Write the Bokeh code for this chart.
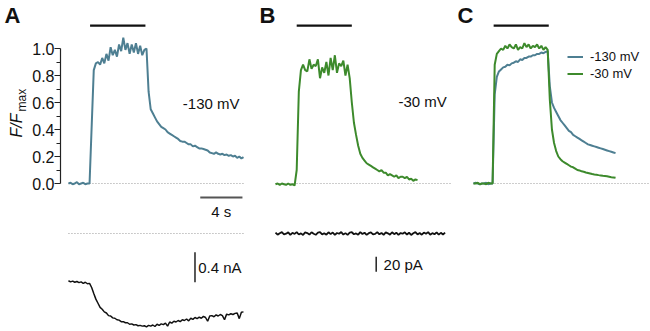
import numpy as np
from bokeh.plotting import figure
from bokeh.layouts import row
from bokeh.models import (Range1d, LinearAxis, Label, Legend, LegendItem,
                          FixedTicker, PrintfTickFormatter)
from bokeh.embed import file_html
from bokeh.resources import INLINE

# ---------------- data ----------------
DT = 0.2  # s, sampling interval of the traces

# Panel A: F/Fmax at -130 mV
fA = [0.00, 0.005, -0.005, 0.00, 0.01,
      -0.005, 0.00, 0.005, -0.005, 0.00,
      0.00, 0.42, 0.84, 0.89, 0.90,
      0.88, 0.93, 0.89, 0.96, 0.91,
      1.01, 0.95, 0.99, 0.94, 1.03,
      0.98, 1.08, 0.99, 1.04, 0.96,
      1.03, 0.97, 1.04, 0.96, 1.02,
      0.95, 0.99, 1.00, 0.68, 0.55,
      0.52, 0.49, 0.46, 0.44, 0.42,
      0.41, 0.40, 0.38, 0.37, 0.36,
      0.35, 0.34, 0.33, 0.315, 0.31,
      0.31, 0.30, 0.29, 0.29, 0.275,
      0.28, 0.27, 0.26, 0.26, 0.255,
      0.25, 0.245, 0.23, 0.225, 0.22,
      0.23, 0.22, 0.215, 0.22, 0.21,
      0.215, 0.205, 0.21, 0.20, 0.205,
      0.19, 0.20, 0.185, 0.195]

# Panel A: membrane current (nA)
iA = [-0.630, -0.645, -0.635, -0.650, -0.640,
      -0.655, -0.645, -0.665, -0.650, -0.670,
      -0.665, -0.720, -0.800, -0.875, -0.930,
      -0.985, -1.010, -1.045, -1.060, -1.095,
      -1.100, -1.125, -1.130, -1.150, -1.155,
      -1.175, -1.175, -1.190, -1.190, -1.210,
      -1.205, -1.220, -1.215, -1.230, -1.225,
      -1.235, -1.230, -1.245, -1.225, -1.235,
      -1.220, -1.240, -1.210, -1.225, -1.205,
      -1.215, -1.195, -1.235, -1.180, -1.195,
      -1.170, -1.180, -1.160, -1.175, -1.150,
      -1.160, -1.140, -1.165, -1.130, -1.145,
      -1.120, -1.135, -1.115, -1.130, -1.105,
      -1.120, -1.170, -1.100, -1.095, -1.110,
      -1.085, -1.100, -1.080, -1.095, -1.150,
      -1.075, -1.085, -1.070, -1.080, -1.065,
      -1.060, -1.135, -1.050, -1.045]

# Panel B: F/Fmax at -30 mV
fB = [-0.005, 0.00, -0.01, 0.00, -0.005,
      -0.01, 0.00, -0.01, -0.005, -0.015,
      0.10, 0.68, 0.84, 0.88, 0.84,
      0.83, 0.92, 0.85, 0.88, 0.87,
      0.92, 0.78, 0.86, 0.82, 0.90,
      0.80, 0.93, 0.84, 0.95, 0.82,
      0.89, 0.87, 0.91, 0.80, 0.88,
      0.78, 0.60, 0.45, 0.36, 0.28,
      0.22, 0.19, 0.17, 0.15, 0.14,
      0.13, 0.12, 0.11, 0.10, 0.09,
      0.10, 0.08, 0.08, 0.06, 0.07,
      0.06, 0.05, 0.06, 0.04, 0.05,
      0.05, 0.04, 0.05, 0.03, 0.035,
      0.02, 0.03, 0.025]

# Panel B: membrane current (pA)
iB = [1.2, -1.6, 0.4, 1.8, -1.1, -0.2, 1.5, -1.8, 0.9, -0.6,
      1.9, -1.3, 0.2, -1.9, 1.4, 0.6, -1.5, 1.7, -0.4, -1.7,
      1.1, 1.8, -1.2, 0.3, -1.6, 1.6, -0.8, 1.3, -1.9, 0.7,
      -0.3, 1.9, -1.4, 0.5, -1.8, 1.2, 1.7, -1.0, 0.1, -1.6,
      1.8, -0.7, 1.0, -1.9, 0.4, 1.5, -1.3, -0.5, 1.9, -1.1,
      0.8, -1.7, 1.4, 0.2, -1.5, 1.7, -0.9, 1.1, -1.8, 0.6,
      -0.2, 1.6, -1.4, 1.0, -1.9, 0.3, 1.8, -1.2, 0.7, -1.6,
      1.3, -0.4, 1.9, -1.7, 0.5, -1.0, 1.5, -1.5, 0.9, -1.3, 1.2]

# Panel C: normalised averages
fC130 = [0.00, 0.005, 0.00, -0.005, 0.00,
         0.00, 0.005, -0.005, 0.00, 0.00,
         0.66, 0.79, 0.83, 0.845, 0.86,
         0.865, 0.88, 0.875, 0.89, 0.895,
         0.905, 0.90, 0.92, 0.915, 0.93,
         0.93, 0.94, 0.94, 0.95, 0.95,
         0.96, 0.96, 0.97, 0.965, 0.975,
         0.98, 0.72, 0.60, 0.56, 0.53,
         0.50, 0.47, 0.45, 0.43, 0.41,
         0.39, 0.38, 0.36, 0.35, 0.34,
         0.33, 0.32, 0.31, 0.30, 0.29,
         0.285, 0.28, 0.275, 0.27, 0.265,
         0.26, 0.255, 0.25, 0.245, 0.24,
         0.235, 0.23, 0.225]
fC30 = [0.00, 0.00, 0.005, -0.005, 0.00,
        0.00, -0.005, 0.005, 0.00, 0.00,
        0.88, 0.96, 0.98, 1.00, 0.99,
        1.02, 1.00, 1.03, 1.01, 1.00,
        1.03, 0.99, 1.01, 1.00, 1.04,
        1.01, 1.03, 1.00, 1.02, 1.01,
        1.03, 1.00, 1.02, 0.99, 1.01,
        0.99, 0.62, 0.40, 0.30, 0.24,
        0.20, 0.18, 0.165, 0.155, 0.145,
        0.135, 0.125, 0.12, 0.11, 0.10,
        0.097, 0.09, 0.087, 0.082, 0.078,
        0.074, 0.07, 0.067, 0.065, 0.062,
        0.06, 0.057, 0.055, 0.053, 0.05,
        0.047, 0.045, 0.042]

# light stimulus (s) per panel
stimA = [2.05, 7.30]
stimB = [2.00, 7.20]
stimC = [1.90, 7.10]
baseline_t = [0.0, 16.7]
y_ticks = [0.0, 0.2, 0.4, 0.6, 0.8, 1.0]
y_minor = [0.1, 0.3, 0.5, 0.7, 0.9]
legend_labels = ["-130 mV", "-30 mV"]

# ---------------- layout / style ----------------
FONT = "Liberation Sans"
BLUE = "#4e7f92"
GREEN = "#3d8a2c"
INK = "#111111"
H = 331
PX_S = 10.6      # px per second
PX_F = 135.0     # px per unit F/Fmax
F0_PY = 183      # px from top where F = 0
I0_PY = 233      # px from top where I = 0
PX_NA = 75.0     # px per nA
PX_PA = 0.75     # px per pA
W_TITLE = 29     # strip holding the panel letter and the y-axis title
AX_BORDER = 30   # border of panel A holding the y axis

def t_of(x, t0_px):
    return (x - t0_px) / PX_S

def f_of(y):
    return (F0_PY - y) / PX_F

def make_fig(width, fig_left, t0_px, left_border=0):
    frame_left = fig_left + left_border
    xs = (frame_left - t0_px) / PX_S
    xe = xs + (width - left_border) / PX_S
    p = figure(width=width, height=H,
               x_range=Range1d(xs, xe),
               y_range=Range1d(-(H - F0_PY) / PX_F, F0_PY / PX_F),
               output_backend="svg", toolbar_location=None,
               x_axis_location=None, y_axis_location=None,
               min_border=0, min_border_left=left_border,
               outline_line_color=None, background_fill_color="white",
               border_fill_color="white")
    p.xgrid.visible = False
    p.ygrid.visible = False
    return p

def lab(p, text, x, y, size="15px", style="normal", align="left",
        baseline="middle", angle=0, y_range_name="default"):
    p.add_layout(Label(x=x, y=y, text=text, text_font=FONT,
                       text_font_size=size, text_font_style=style,
                       text_align=align, text_baseline=baseline,
                       angle=angle, angle_units="deg", text_color=INK,
                       y_range_name=y_range_name))

# ---------------- title strip (panel letter A + y-axis title) ----------------
A_T0 = 67
p0 = make_fig(W_TITLE, 0, A_T0)
lab(p0, "A", t_of(4, A_T0), f_of(2), size="22px", style="bold", baseline="top")
lab(p0, "F/F", t_of(15.5, A_T0), f_of(137), size="16px", style="italic",
    baseline="alphabetic", angle=90)
lab(p0, "max", t_of(21, A_T0), f_of(111), size="12px", baseline="alphabetic", angle=90)

# ---------------- Panel A ----------------
pA = make_fig(250 - W_TITLE, W_TITLE, A_T0, left_border=AX_BORDER)
pA.extra_y_ranges = {"cur": Range1d(-(H - I0_PY) / PX_NA, I0_PY / PX_NA)}
ax = LinearAxis(ticker=FixedTicker(ticks=y_ticks, minor_ticks=y_minor),
                formatter=PrintfTickFormatter(format="%.1f"), bounds=(0, 1))
ax.axis_line_color = "#222222"
ax.axis_line_width = 1.2
ax.major_tick_line_color = "#222222"
ax.minor_tick_line_color = "#222222"
ax.major_tick_line_width = 1.2
ax.minor_tick_line_width = 1.2
ax.major_tick_out = 6
ax.major_tick_in = 0
ax.minor_tick_out = 4
ax.minor_tick_in = 0
ax.major_label_standoff = 0
ax.major_label_text_font = FONT
ax.major_label_text_font_size = "16px"
ax.major_label_text_color = INK
pA.add_layout(ax, "left")

tA = np.arange(len(fA)) * DT
pA.line(baseline_t, [0, 0], line_color="#9a9a9a", line_width=1, line_dash="1 2")
pA.line(tA, fA, line_color=BLUE, line_width=2)
pA.line(stimA, [1.17, 1.17], line_color=INK, line_width=2.2)
pA.line(baseline_t, [0, 0], line_color="#9a9a9a", line_width=1, line_dash="1 2",
        y_range_name="cur")
tiA = np.arange(len(iA)) * DT
pA.line(tiA, iA, line_color=INK, line_width=1.5, y_range_name="cur")
# scale bars
pA.line([12.5, 16.5], [-0.104, -0.104], line_color="#555555", line_width=2)
pA.line([12.0, 12.0], [-0.25, -0.65], line_color="#222222", line_width=1.5,
        y_range_name="cur")

lab(pA, "4 s", 14.5, -0.21, align="center")
lab(pA, "0.4 nA", 12.3, -0.45, y_range_name="cur")
lab(pA, "-130 mV", t_of(182, A_T0), f_of(103))

# ---------------- Panel B ----------------
B_LEFT, B_T0 = 250, 275
pB = make_fig(205, B_LEFT, B_T0)
pB.extra_y_ranges = {"cur": Range1d(-(H - I0_PY) / PX_PA, I0_PY / PX_PA)}
tB = np.arange(len(fB)) * DT
pB.line(baseline_t, [0, 0], line_color="#9a9a9a", line_width=1, line_dash="1 2")
pB.line(tB, fB, line_color=GREEN, line_width=2)
pB.line(stimB, [1.17, 1.17], line_color=INK, line_width=2.2)
tiB = np.arange(len(iB)) * DT
pB.line(tiB, iB, line_color=INK, line_width=1.8, y_range_name="cur")
pB.line([9.5, 9.5], [-31, -51], line_color="#222222", line_width=1.5, y_range_name="cur")
lab(pB, "20 pA", 10.2, -41, y_range_name="cur")
lab(pB, "-30 mV", t_of(398, B_T0), f_of(101))
lab(pB, "B", t_of(259, B_T0), f_of(2), size="22px", style="bold", baseline="top")

# ---------------- Panel C ----------------
C_LEFT, C_T0 = 455, 473
pC = make_fig(195, C_LEFT, C_T0)
tC = np.arange(len(fC130)) * DT
pC.line(baseline_t, [0, 0], line_color="#9a9a9a", line_width=1, line_dash="1 2")
r130 = pC.line(tC, fC130, line_color=BLUE, line_width=2)
r30 = pC.line(tC, fC30, line_color=GREEN, line_width=2)
pC.line(stimC, [1.17, 1.17], line_color=INK, line_width=2.2)
lab(pC, "C", t_of(457, C_T0), f_of(2), size="22px", style="bold", baseline="top")

legend = Legend(items=[LegendItem(label=legend_labels[0], renderers=[r130]),
                       LegendItem(label=legend_labels[1], renderers=[r30])],
                location=(567 - C_LEFT, H - 81))
legend.background_fill_alpha = 0
legend.border_line_alpha = 0
legend.padding = 0
legend.margin = 0
legend.spacing = 2
legend.label_height = 13
legend.glyph_height = 13
legend.glyph_width = 16
legend.label_standoff = 7
legend.label_text_font = FONT
legend.label_text_font_size = "13px"
legend.label_text_color = INK
pC.add_layout(legend)

layout = row(p0, pA, pB, pC, spacing=0)
open("out.html", "w").write(file_html(layout, INLINE))
